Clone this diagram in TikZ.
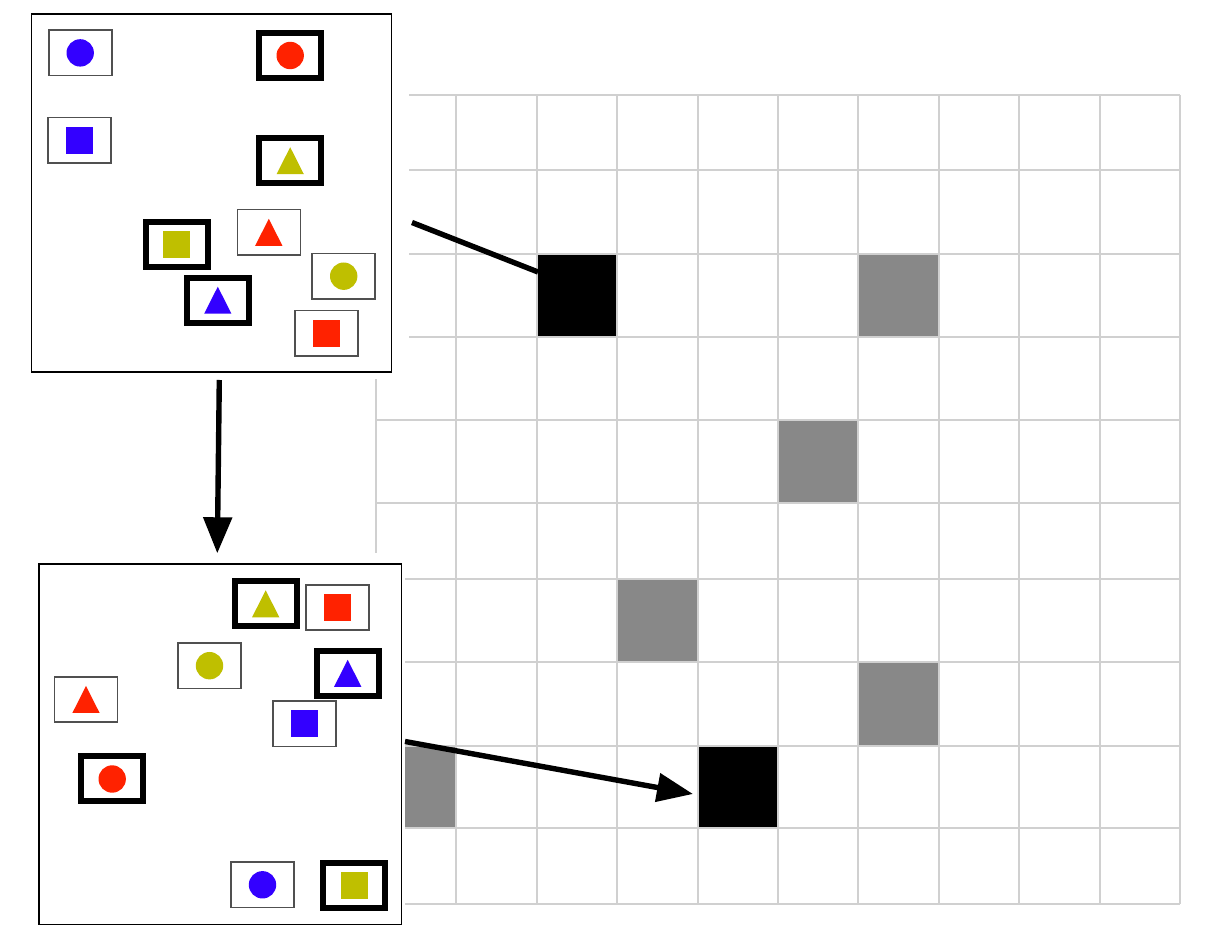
\documentclass[tikz,border=0pt]{standalone}
\usetikzlibrary{arrows.meta}
\definecolor{cblue}{RGB}{51,0,255}
\definecolor{cred}{RGB}{255,34,0}
\definecolor{cyel}{RGB}{191,191,0}
\definecolor{cgray}{RGB}{136,136,136}
\definecolor{gridc}{RGB}{208,208,208}
\definecolor{thinbox}{RGB}{80,80,80}
\newcommand{\shpcirc}[2]{\fill[#2] (#1) circle[radius=6.85pt];}
\newcommand{\shpsq}[2]{\fill[#2] ([shift={(-13.65,-13.65)}]#1) rectangle ([shift={(13.65,13.65)}]#1);}
\newcommand{\shptri}[2]{\fill[#2] ([shift={(0,-13.5)}]#1) -- ([shift={(13.65,13.5)}]#1) -- ([shift={(-13.65,13.5)}]#1) -- cycle;}
\begin{document}
\begin{tikzpicture}[x=0.5pt,y=-0.5pt,
  gridline/.style={draw=gridc,line width=1pt},
  cellbox/.style={minimum width=40.2pt,minimum height=41.5pt,inner sep=0pt,outer sep=0pt},
  panel/.style={draw=black,fill=white,line width=0.7pt,inner sep=0pt},
  thinitem/.style={draw=thinbox,fill=white,line width=0.8pt,minimum width=31.5pt,minimum height=22.7pt,inner sep=0pt},
  thickitem/.style={draw=black,fill=white,line width=3pt,minimum width=31pt,minimum height=22.5pt,inner sep=0pt},
  conn/.style={draw=black,line width=2.7pt},
  tip/.style={-{Triangle[length=18pt,width=14pt]}}]
\useasboundingbox[fill=white] (0,0) rectangle (1212,946);
% filled cells
\node[cellbox,fill=black] (B1) at (577,295.5) {};
\node[cellbox,fill=black] (B2) at (738,787) {};
\fill[cgray] (858.4,254) rectangle (938.8,337);
\fill[cgray] (778,420) rectangle (858.4,503.3);
\fill[cgray] (617.2,579) rectangle (697.6,662.3);
\fill[cgray] (858.4,662.3) rectangle (938.8,745.7);
\fill[cgray] (376,745.7) rectangle (456.4,828.3);
% grid
\foreach \gx in {376,456.4,536.8,617.2,697.6,778,858.4,938.8,1019.2,1099.6,1180}
  \draw[gridline] (\gx,95) -- (\gx,904.3);
\foreach \gy in {95,170.5,254,337,420,503.3,579,662.3,745.7,828.3,904.3}
  \draw[gridline] (376,\gy) -- (1180,\gy);
% white areas behind panels
\fill[white] (0,0) rectangle (409,379);
\fill[white] (0,553.5) rectangle (405,946);
% panels
\node[panel,minimum width=180pt,minimum height=179pt] (P1) at (211.3,193) {};
\node[panel,minimum width=181.35pt,minimum height=180.35pt] (P2) at (220.35,744.35) {};
% top panel items
\node[thinitem]  (t1) at (80.2,52.9) {};   \shpcirc{t1.center}{cblue}
\node[thickitem] (t2) at (290.2,55.5) {};  \shpcirc{t2.center}{cred}
\node[thinitem]  (t3) at (79.2,140.3) {};  \shpsq{t3.center}{cblue}
\node[thickitem] (t4) at (290.2,160.7) {}; \shptri{t4.center}{cyel}
\node[thickitem] (t5) at (176.8,244.3) {}; \shpsq{t5.center}{cyel}
\node[thinitem]  (t6) at (268.8,232.3) {}; \shptri{t6.center}{cred}
\node[thinitem]  (t7) at (343.7,276.2) {}; \shpcirc{t7.center}{cyel}
\node[thickitem] (t8) at (217.8,300.2) {}; \shptri{t8.center}{cblue}
\node[thinitem]  (t9) at (326.3,333.2) {}; \shpsq{t9.center}{cred}
% bottom panel items
\node[thickitem] (b1) at (265.7,603.8) {}; \shptri{b1.center}{cyel}
\node[thinitem]  (b2) at (337.2,607.5) {}; \shpsq{b2.center}{cred}
\node[thinitem]  (b3) at (209.5,665.7) {}; \shpcirc{b3.center}{cyel}
\node[thickitem] (b4) at (347.7,673.3) {}; \shptri{b4.center}{cblue}
\node[thinitem]  (b5) at (86,699.5) {};    \shptri{b5.center}{cred}
\node[thinitem]  (b6) at (304.2,723.8) {}; \shpsq{b6.center}{cblue}
\node[thickitem] (b7) at (112.2,779) {};   \shpcirc{b7.center}{cred}
\node[thinitem]  (b8) at (262.5,884.8) {}; \shpcirc{b8.center}{cblue}
\node[thickitem] (b9) at (354.2,885.8) {}; \shpsq{b9.center}{cyel}
% connectors
\coordinate (c1s) at (412,222.5);
\coordinate (c1e) at (538,272);
\draw[conn] (c1s) -- (c1e);
\coordinate (c2s) at (219.3,380);
\coordinate (c2e) at (217.3,553.3);
\draw[conn,tip] (c2s) -- (c2e);
\coordinate (c3s) at (405,741.5);
\coordinate (c3e) at (693,794);
\draw[conn,tip] (c3s) -- (c3e);
\end{tikzpicture}
\end{document}
